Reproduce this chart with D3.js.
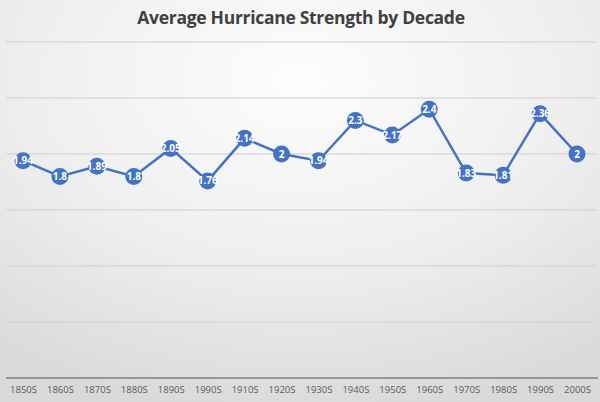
<!DOCTYPE html>
<html>
<head>
<meta charset="utf-8">
<script src="https://cdn.jsdelivr.net/npm/d3@7"></script>
<style>
  body { margin: 0; padding: 0; overflow: hidden; }
  svg { display: block; }
</style>
</head>
<body>
<svg id="chart" width="600" height="402"></svg>
<script>
// chart data
var decades = ["1850S", "1860S", "1870S", "1880S", "1890S", "1990S", "1910S", "1920S",
               "1930S", "1940S", "1950S", "1960S", "1970S", "1980S", "1990S", "2000S"];
var strength = [1.94, 1.8, 1.89, 1.8, 2.05, 1.76, 2.14, 2, 1.94, 2.3, 2.17, 2.4, 1.83, 1.81, 2.36, 2];
var y_ticks = [0, 0.5, 1, 1.5, 2, 2.5, 3];

var width = 600;
var height = 402;
var left = 6, right = 596, top_y = 42, bottom_y = 378;
var blue = "#4472c4";

var svg = d3.select("#chart");

// background
var defs = svg.append("defs");
var grad = defs.append("radialGradient")
  .attr("id", "bg")
  .attr("cx", "50%").attr("cy", "20%").attr("r", "85%");
grad.append("stop").attr("offset", "0%").attr("stop-color", "#fdfdfd");
grad.append("stop").attr("offset", "55%").attr("stop-color", "#eeeeee");
grad.append("stop").attr("offset", "100%").attr("stop-color", "#d9d9d9");
svg.append("rect").attr("width", width).attr("height", height).attr("fill", "url(#bg)");

// scales
var x = d3.scalePoint().domain(d3.range(decades.length)).range([23, 577]);
var y = d3.scaleLinear().domain([0, 3]).range([bottom_y, top_y]);

// gridlines
svg.append("g").selectAll("line")
  .data(y_ticks.filter(function(d) { return d > 0; }))
  .enter().append("line")
    .attr("x1", left).attr("x2", right)
    .attr("y1", function(d) { return y(d); })
    .attr("y2", function(d) { return y(d); })
    .attr("stroke", "#cfcfcf")
    .attr("stroke-width", 1);

// x axis
var xaxis = d3.axisBottom(x).tickSize(0).tickFormat(function(i) { return decades[i]; });
var ax = svg.append("g").attr("transform", "translate(0," + bottom_y + ")").call(xaxis);
ax.select(".domain").remove();
ax.append("line")
  .attr("x1", left).attr("x2", right + 2)
  .attr("stroke", "#7f7f7f").attr("stroke-width", 1.5);
ax.selectAll("text")
  .attr("dy", "0")
  .attr("y", 15)
  .style("font-family", "'Open Sans', sans-serif")
  .style("font-size", "9.5px")
  .style("fill", "#595959");

// title
svg.append("text")
  .attr("x", 301).attr("y", 24)
  .attr("text-anchor", "middle")
  .style("font-family", "'Open Sans', sans-serif")
  .style("font-weight", "bold")
  .style("font-size", "17.5px")
  .style("letter-spacing", "-0.3px")
  .style("fill", "#404040")
  .text("Average Hurricane Strength by Decade");

// line
var line = d3.line()
  .x(function(d, i) { return x(i); })
  .y(function(d) { return y(d); });
svg.append("path")
  .datum(strength)
  .attr("d", line)
  .attr("fill", "none")
  .attr("stroke", blue)
  .attr("stroke-width", 2.5);

// markers + labels
var pts = svg.append("g").selectAll("g")
  .data(strength)
  .enter().append("g")
    .attr("transform", function(d, i) { return "translate(" + x(i) + "," + y(d) + ")"; });
pts.append("circle")
  .attr("r", 8.5)
  .attr("fill", blue);
pts.append("text")
  .attr("text-anchor", "middle")
  .attr("dy", "0.36em")
  .style("font-family", "'Open Sans', sans-serif")
  .style("font-weight", "bold")
  .style("font-size", "10px")
  .style("fill", "#ffffff")
  .text(function(d) { return d; });
</script>
</body>
</html>
